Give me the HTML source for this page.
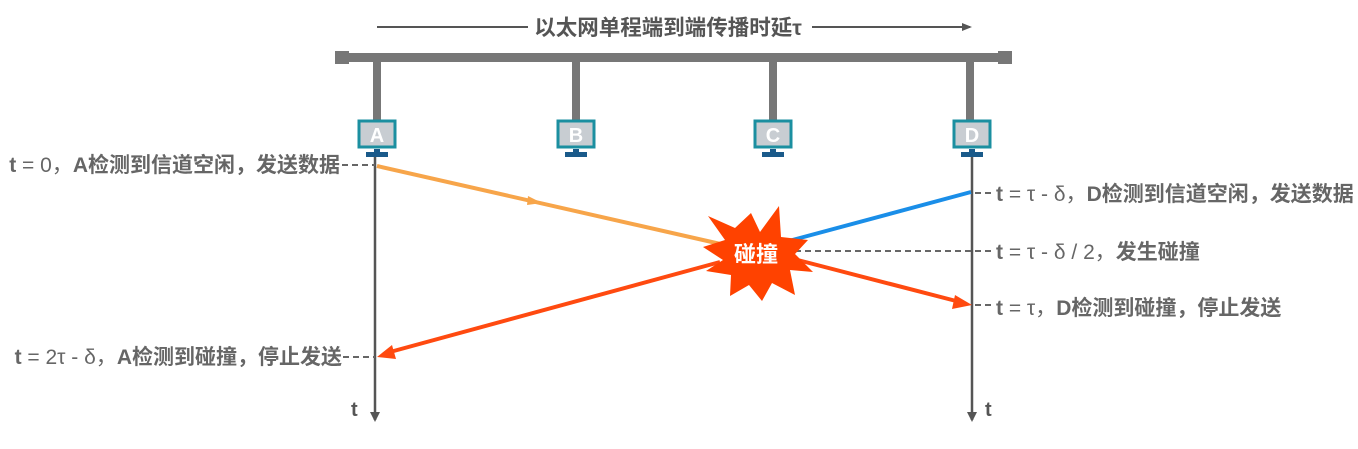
<!DOCTYPE html>
<html><head><meta charset="utf-8"><style>
html,body{margin:0;padding:0;background:#fff;}
svg{display:block;}
text{font-family:"Liberation Sans","Noto Sans CJK SC",sans-serif;font-weight:bold;fill:#666;}
</style></head><body>
<svg width="1358" height="449" viewBox="0 0 1358 449" xmlns="http://www.w3.org/2000/svg">
<!-- title -->
<line x1="377" y1="27" x2="528" y2="27" stroke="#555" stroke-width="2"/>
<line x1="812" y1="27" x2="970" y2="27" stroke="#555" stroke-width="2"/>
<path d="M962,23 L972,27 L962,31Z" fill="#555"/>
<text x="668" y="35" font-size="21.5" text-anchor="middle" style="fill:#555">以太网单程端到端传播时延τ</text>
<!-- bus -->
<rect x="337" y="53" width="673" height="9" fill="#777"/>
<rect x="335" y="51" width="14" height="13" fill="#777"/>
<rect x="998" y="51" width="14" height="13" fill="#777"/>
<g fill="#777">
<rect x="373" y="60" width="8" height="62"/>
<rect x="572" y="60" width="8" height="62"/>
<rect x="769" y="60" width="8" height="62"/>
<rect x="966" y="60" width="8" height="62"/>
</g>
<!-- monitors -->
<g font-size="20" text-anchor="middle">
<g transform="translate(377,0)"><rect x="-18" y="121" width="36" height="26" fill="#c8cdd2" stroke="#1b8fa0" stroke-width="3"/><rect x="-3" y="149" width="6" height="4" fill="#1a5a8a"/><rect x="-11" y="152" width="22" height="5" fill="#1a5a8a"/><text x="0" y="142" style="fill:#fff">A</text></g>
<g transform="translate(576,0)"><rect x="-18" y="121" width="36" height="26" fill="#c8cdd2" stroke="#1b8fa0" stroke-width="3"/><rect x="-3" y="149" width="6" height="4" fill="#1a5a8a"/><rect x="-11" y="152" width="22" height="5" fill="#1a5a8a"/><text x="0" y="142" style="fill:#fff">B</text></g>
<g transform="translate(773,0)"><rect x="-18" y="121" width="36" height="26" fill="#c8cdd2" stroke="#1b8fa0" stroke-width="3"/><rect x="-3" y="149" width="6" height="4" fill="#1a5a8a"/><rect x="-11" y="152" width="22" height="5" fill="#1a5a8a"/><text x="0" y="142" style="fill:#fff">C</text></g>
<g transform="translate(972,0)"><rect x="-18" y="121" width="36" height="26" fill="#c8cdd2" stroke="#1b8fa0" stroke-width="3"/><rect x="-3" y="149" width="6" height="4" fill="#1a5a8a"/><rect x="-11" y="152" width="22" height="5" fill="#1a5a8a"/><text x="0" y="142" style="fill:#fff">D</text></g>
</g>
<!-- timelines -->
<line x1="375" y1="157" x2="375" y2="420" stroke="#555" stroke-width="2.5"/>
<path d="M370,412 L375,422 L380,412Z" fill="#555"/>
<line x1="972" y1="157" x2="972" y2="420" stroke="#555" stroke-width="2.5"/>
<path d="M967,412 L972,422 L977,412Z" fill="#555"/>
<text x="351" y="416" font-size="20" style="fill:#555">t</text>
<text x="985" y="416" font-size="20" style="fill:#555">t</text>
<!-- dashes -->
<g stroke="#666" stroke-width="2" stroke-dasharray="6,4">
<line x1="342" y1="165" x2="375" y2="165"/>
<line x1="343" y1="357" x2="375" y2="357"/>
<line x1="975" y1="193" x2="993" y2="193"/>
<line x1="795" y1="251" x2="993" y2="251"/>
<line x1="975" y1="305" x2="993" y2="305"/>
</g>
<!-- signals -->
<line x1="377" y1="166" x2="725" y2="245" stroke="#f7a54a" stroke-width="4"/>
<path d="M528,196 L542,203 L527,205Z" fill="#f7a54a"/>
<line x1="785" y1="242" x2="971" y2="192" stroke="#1a8ee8" stroke-width="4"/>
<line x1="790" y1="258" x2="960" y2="302" stroke="#ff4a10" stroke-width="4"/>
<path d="M955,295 L972,305 L952,309Z" fill="#ff4a10"/>
<line x1="720" y1="262" x2="390" y2="352" stroke="#ff4a10" stroke-width="4"/>
<path d="M392,345 L377,357 L396,359Z" fill="#ff4a10"/>
<!-- star -->
<polygon fill="#ff4200" points="708,216 735,228 751,213 760,232 779,206 781,237 808,240 795,254 813,272 790,270 795,295 772,283 762,301 749,285 730,296 731,275 706,271 723,260 703,247 725,240" />
<text x="756" y="262" font-size="22" text-anchor="middle" style="fill:#fff">碰撞</text>
<!-- labels -->
<g font-size="21">
<text x="340" y="172" text-anchor="end">t <tspan font-weight="normal">= 0，</tspan>A检测到信道空闲，发送数据</text>
<text x="342" y="364" text-anchor="end">t <tspan font-weight="normal">= 2τ - δ，</tspan>A检测到碰撞，停止发送</text>
<text x="996" y="201">t <tspan font-weight="normal">= τ - δ，</tspan>D检测到信道空闲，发送数据</text>
<text x="996" y="259">t <tspan font-weight="normal">= τ - δ / 2，</tspan>发生碰撞</text>
<text x="996" y="315">t <tspan font-weight="normal">= τ，</tspan>D检测到碰撞，停止发送</text>
</g>
</svg>
</body></html>
